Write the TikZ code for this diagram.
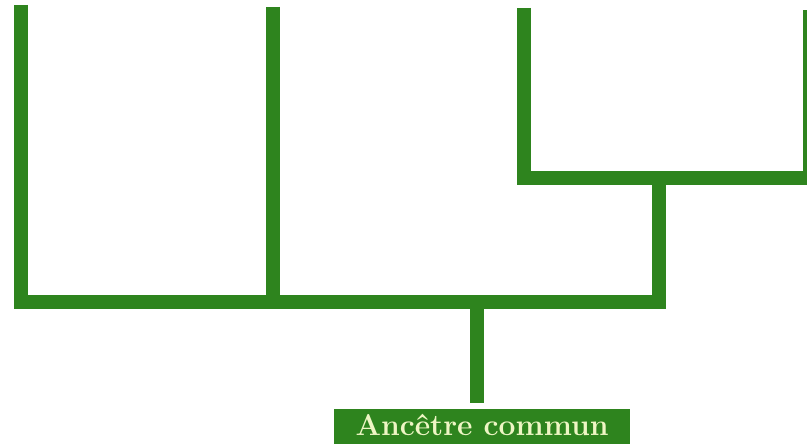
\documentclass[tikz,border=0pt]{standalone}
\definecolor{treegreen}{RGB}{46,132,30}
\definecolor{labeltext}{RGB}{238,246,196}
\begin{document}
\begin{tikzpicture}[x=1pt,y=-1pt,
  branch/.style={draw=treegreen,line width=14pt,line cap=butt,line join=miter},
  rootbox/.style={fill=treegreen,text=labeltext,inner sep=0pt,minimum width=296pt,
    text height=26pt,text depth=11pt,font=\fontsize{30}{31}\selectfont\bfseries}]
\useasboundingbox (0,0) rectangle (807,444);
\clip (0,0) rectangle (807,444);
\coordinate (t1) at (20.5,5);
\coordinate (t2) at (273,7);
\coordinate (t3) at (524,8);
\coordinate (t4) at (810,10);
\coordinate (j2) at (659,178);
\coordinate (root) at (476.5,302);
\node[rootbox,anchor=base] (anc) at (482,435) {Ancêtre commun};
\path[branch] (t1) |- (root) -| (j2);
\path[branch] (t3) |- (j2) -| (t4);
\path[branch] (t2) -- (t2 |- root);
\path[branch] (root) -- (root |- {(0,403)});
\end{tikzpicture}
\end{document}
